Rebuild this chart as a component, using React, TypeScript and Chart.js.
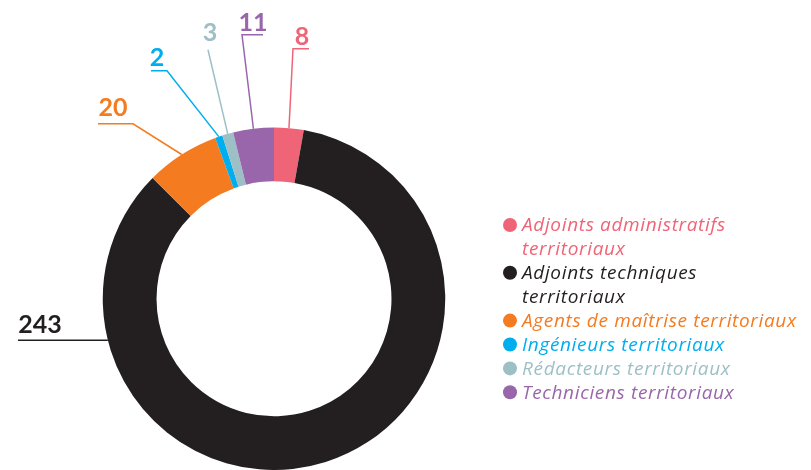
import React, { useEffect, useRef } from "react";
import { Chart, registerables } from "chart.js";

Chart.register(...registerables);

// ---- data ----
const categories: string[][] = [
  ["Adjoints administratifs", "territoriaux"],
  ["Adjoints techniques", "territoriaux"],
  ["Agents de maîtrise territoriaux"],
  ["Ingénieurs territoriaux"],
  ["Rédacteurs territoriaux"],
  ["Techniciens territoriaux"],
];
const values = [8, 243, 20, 2, 3, 11];
const valueLabels = ["8", "243", "20", "2", "3", "11"];
const colors = ["#EF6476", "#231F20", "#F47B20", "#00AEEF", "#9DBFC6", "#9A66AB"];

// ---- callout placement (relative to doughnut centre, px) ----
type Callout = {
  anchorDeg?: number; // override anchor angle (canvas degrees)
  elbow?: [number, number];
  underX: number;
  text: [number, number];
};
const callouts: Callout[] = [
  { elbow: [19, -250], underX: 35, text: [28, -254] },
  { anchorDeg: 166, underX: -256, text: [-234, 34] },
  { elbow: [-141, -175], underX: -176, text: [-161, -183] },
  { elbow: [-107, -228], underX: -123, text: [-117, -233] },
  { elbow: [-66, -249], underX: -66, text: [-64, -258] },
  { elbow: [-32, -264], underX: -11, text: [-21, -268] },
];

const calloutPlugin = {
  id: "callouts",
  afterDatasetsDraw(chart: any) {
    const ctx = chart.ctx;
    const meta = chart.getDatasetMeta(0);
    ctx.save();
    meta.data.forEach((arc: any, i: number) => {
      const c = callouts[i];
      if (!c) return;
      const { x, y, outerRadius, startAngle, endAngle } = arc.getProps(
        ["x", "y", "outerRadius", "startAngle", "endAngle"],
        true
      );
      const ang = c.anchorDeg !== undefined ? (c.anchorDeg * Math.PI) / 180 : (startAngle + endAngle) / 2;
      const ax = x + Math.cos(ang) * outerRadius;
      const ay = y + Math.sin(ang) * outerRadius;
      const ex = c.elbow ? x + c.elbow[0] : ax;
      const ey = c.elbow ? y + c.elbow[1] : ay;
      ctx.strokeStyle = colors[i];
      ctx.lineWidth = 1.5;
      ctx.beginPath();
      ctx.moveTo(ax, ay);
      ctx.lineTo(ex, ey);
      ctx.lineTo(x + c.underX, ey);
      ctx.stroke();
      ctx.fillStyle = colors[i];
      ctx.font = "700 25px Lato";
      ctx.textAlign = "center";
      ctx.textBaseline = "alphabetic";
      ctx.fillText(valueLabels[i], x + c.text[0], y + c.text[1]);
    });
    ctx.restore();
  },
};

const legendPlugin = {
  id: "sideLegend",
  afterDraw(chart: any) {
    const ctx = chart.ctx;
    ctx.save();
    const markerX = 510;
    const textX = 522;
    const lineH = 23.9;
    let cy = 225;
    ctx.font = "italic 400 19px 'Open Sans'";
    try {
      (ctx as any).letterSpacing = "0.65px";
    } catch (e) {}
    ctx.textAlign = "left";
    ctx.textBaseline = "middle";
    categories.forEach((lines, i) => {
      ctx.fillStyle = colors[i];
      ctx.beginPath();
      ctx.arc(markerX, cy, 7, 0, Math.PI * 2);
      ctx.fill();
      lines.forEach((ln) => {
        ctx.fillText(ln, textX, cy + 1);
        cy += lineH;
      });
    });
    ctx.restore();
  },
};

export default function App() {
  const ref = useRef<HTMLCanvasElement>(null);
  useEffect(() => {
    if (!ref.current) return;
    const chart = new Chart(ref.current, {
      type: "doughnut",
      data: {
        labels: categories.map((l) => l.join(" ")),
        datasets: [
          {
            data: values,
            backgroundColor: colors,
            borderWidth: 0,
          },
        ],
      },
      options: {
        animation: false,
        responsive: false,
        cutout: "68.6%",
        layout: { padding: { left: 100.5, right: 363.5, top: 127.5, bottom: -4.5 } },
        plugins: {
          legend: { display: false },
          tooltip: { enabled: false },
        },
      },
      plugins: [calloutPlugin, legendPlugin],
    });
    return () => chart.destroy();
  }, []);
  return (
    <div style={{ position: "fixed", left: 0, top: 0, width: 811, height: 470, background: "#fff", overflow: "hidden" }}>
      <canvas ref={ref} width={811} height={470} style={{ display: "block", width: 811, height: 470 }} />
    </div>
  );
}
